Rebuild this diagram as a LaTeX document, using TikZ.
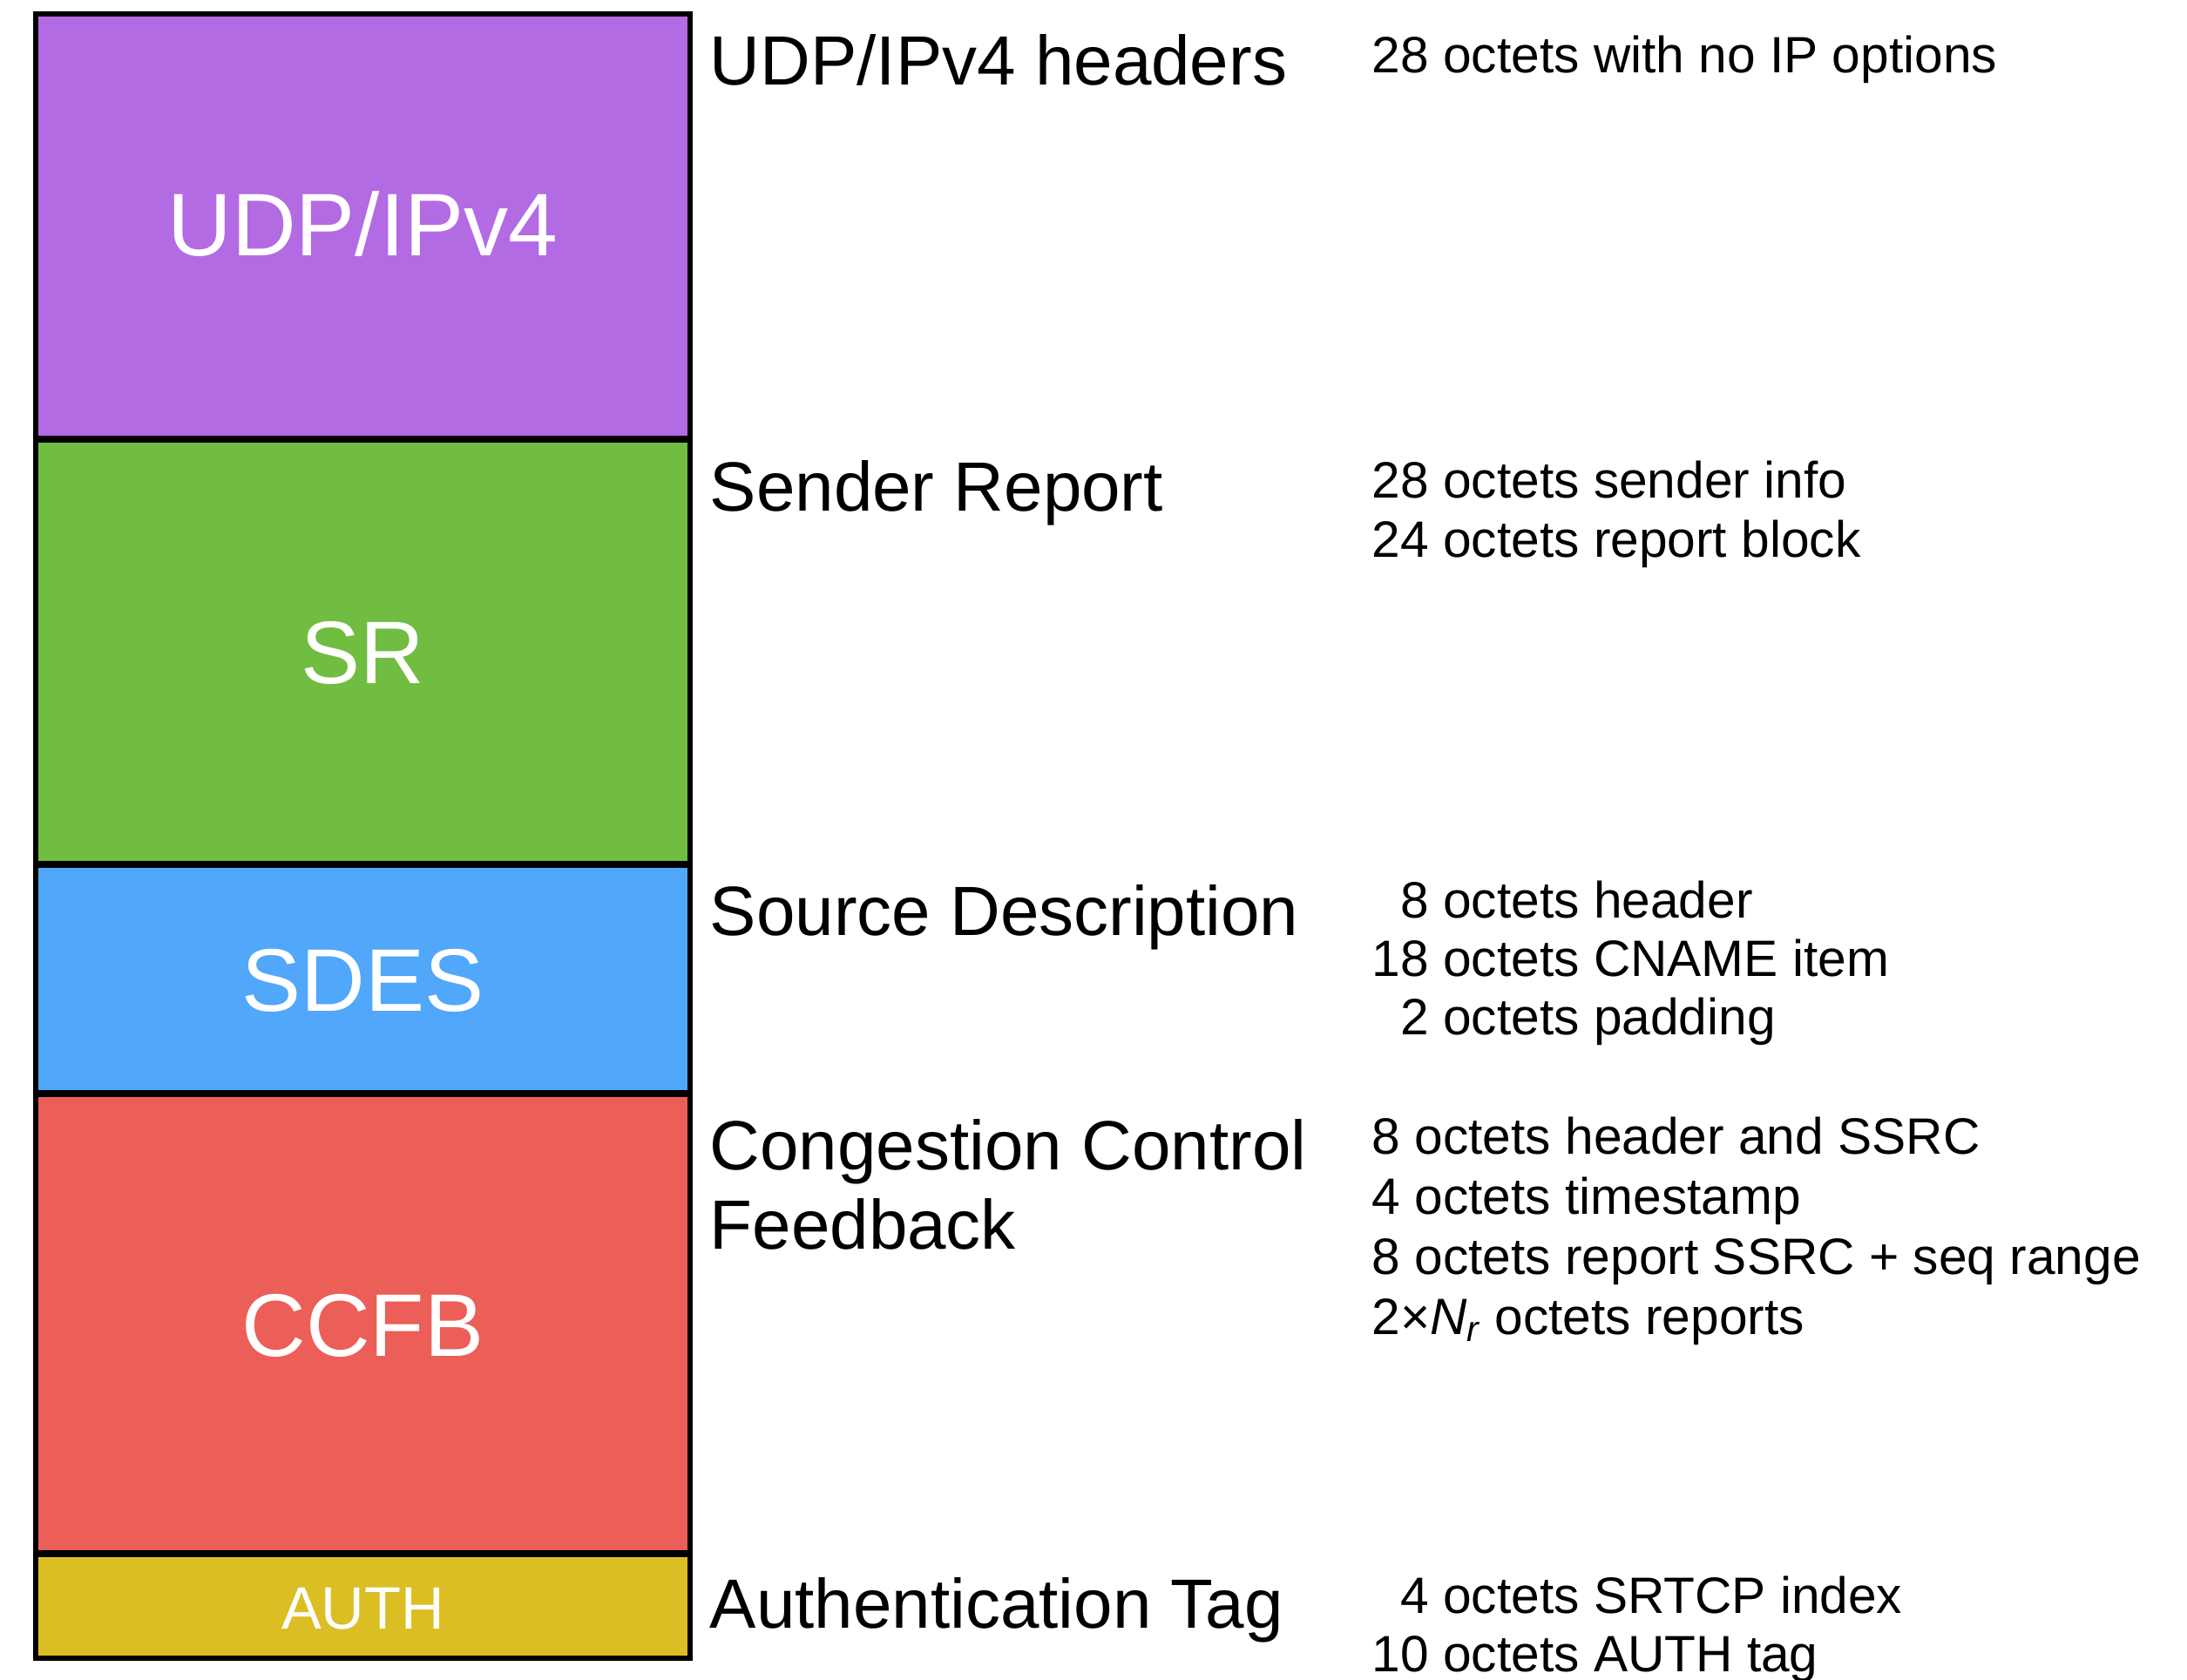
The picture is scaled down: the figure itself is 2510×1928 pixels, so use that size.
\documentclass[tikz,border=0pt]{standalone}
\usepackage{fontspec}
\setmainfont{Liberation Sans}
\definecolor{udpcol}{HTML}{B36BE3}
\definecolor{srcol}{HTML}{70BD41}
\definecolor{sdescol}{HTML}{51A7F9}
\definecolor{ccfbcol}{HTML}{EC5E58}
\definecolor{authcol}{HTML}{DBBE24}
\tikzset{
  seg/.style={draw=black, line width=1.6pt},
  boxlabel/.style={text=white, inner sep=0pt, anchor=base,
    font=\fontsize{30.6}{36}\selectfont},
  smalllabel/.style={text=white, inner sep=0pt, anchor=base,
    font=\fontsize{20.6}{24}\selectfont},
  head/.style={inner sep=0pt, anchor=base west,
    font=\fontsize{24}{28}\selectfont},
  desc/.style={inner sep=0pt, anchor=base west,
    font=\fontsize{17.6}{21}\selectfont},
}
\newcommand{\onedigit}{\hphantom{0}}
\begin{document}
\begin{tikzpicture}[x=0.3pt, y=-0.3pt]
\useasboundingbox (0,0) rectangle (2510,1928);

% stacked packet segments
\path[seg, fill=udpcol]  (41,16)   rectangle (792,503);
\path[seg, fill=srcol]   (41,505)  rectangle (792,991);
\path[seg, fill=sdescol] (41,993)  rectangle (792,1254);
\path[seg, fill=ccfbcol] (41,1256) rectangle (792,1782);
\path[seg, fill=authcol] (41,1784) rectangle (792,1903);

\node[boxlabel]   (lbludp)  at (416.5,294)  {UDP/IPv4};
\node[boxlabel]   (lblsr)   at (416.5,785)  {SR};
\node[boxlabel]   (lblsdes) at (416.5,1160) {SDES};
\node[boxlabel]   (lblccfb) at (416.5,1556) {CCFB};
\node[smalllabel] (lblauth) at (416.5,1869) {AUTH};

% segment names
\node[head] (hudp)  at (814,98)   {UDP/IPv4 headers};
\node[head] (hsr)   at (814,587)  {Sender Report};
\node[head] (hsdes) at (814,1073) {Source Description};
\node[head] (hccfb) at (814,1342) {Congestion Control};
\node[head] (hccfbb) at (814,1433) {Feedback};
\node[head] (hauth) at (814,1868) {Authentication Tag};

% octet counts
\node[desc] (dudp)   at (1574,84)   {28 octets with no IP options};
\node[desc] (dsra)   at (1574,572)  {28 octets sender info};
\node[desc] (dsrb)   at (1574,640)  {24 octets report block};
\node[desc] (dsdesa) at (1574,1053) {\onedigit8 octets header};
\node[desc] (dsdesb) at (1574,1120) {18 octets CNAME item};
\node[desc] (dsdesc) at (1574,1187) {\onedigit2 octets padding};
\node[desc] (dccfba) at (1574,1324) {8 octets header and SSRC};
\node[desc] (dccfbb) at (1574,1393) {4 octets timestamp};
\node[desc] (dccfbc) at (1574,1462) {8 octets report SSRC + seq range};
\node[desc] (dccfbd) at (1574,1531) {2×{\itshape N\textsubscript{r}} octets reports};
\node[desc] (dautha) at (1574,1851) {\onedigit4 octets SRTCP index};
\node[desc] (dauthb) at (1574,1918) {10 octets AUTH tag};
\end{tikzpicture}
\end{document}
